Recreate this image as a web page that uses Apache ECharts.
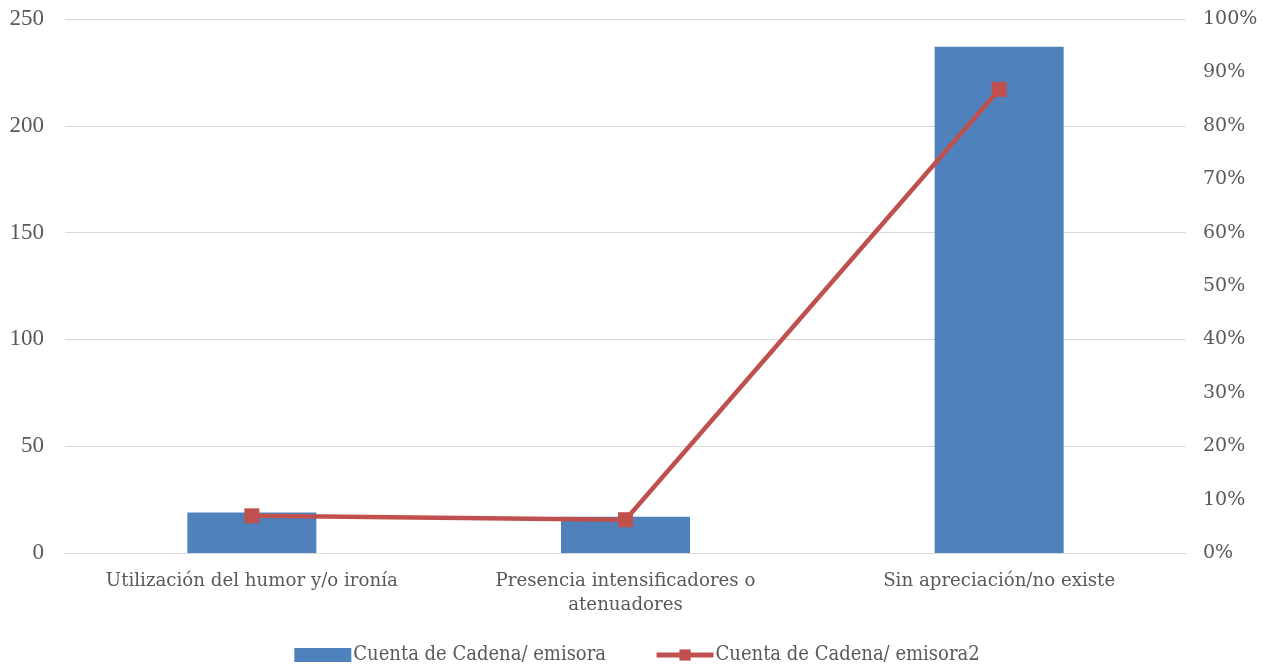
<!DOCTYPE html>
<html>
<head>
<meta charset="utf-8">
<script src="https://cdn.jsdelivr.net/npm/echarts@6/dist/echarts.min.js"></script>
<style>
html,body{margin:0;padding:0;background:#fff;}
#chart{width:1274px;height:666px;}
</style>
</head>
<body>
<div id="chart"></div>
<script>
// Categories and counts per category
const categories = ['Utilización del humor y/o ironía', 'Presencia intensificadores o\natenuadores', 'Sin apreciación/no existe'];
const counts = [19, 17, 237];
// Share of the total for each category (percent)
const shares = [6.96, 6.23, 86.81];
const seriesNames = ['Cuenta de Cadena/ emisora', 'Cuenta de Cadena/ emisora2'];

const chart = echarts.init(document.getElementById('chart'));
const textColor = '#595959';
const serif = '"Liberation Serif", "DejaVu Serif", serif';
const wideSerif = '"DejaVu Serif", "Liberation Serif", serif';

chart.setOption({
  animation: false,
  grid: { left: 65, right: 88, top: 19, bottom: 113 },
  legend: {
    top: 640,
    left: 'center',
    itemWidth: 57,
    itemHeight: 14,
    itemGap: 48,
    textStyle: { fontFamily: '"DejaVu Serif Condensed", "Liberation Serif", serif', fontSize: 20, color: textColor, padding: [0, 0, 0, -3] },
    data: [
      { name: seriesNames[0], icon: 'rect' },
      { name: seriesNames[1], lineStyle: { width: 5 }, itemStyle: { color: '#C0504D' } }
    ]
  },
  xAxis: {
    type: 'category',
    data: categories,
    axisLine: { show: true, lineStyle: { color: '#d9d9d9', width: 1 } },
    axisTick: { show: false },
    axisLabel: { color: textColor, fontFamily: wideSerif, fontSize: 18.2, margin: 16, lineHeight: 24, interval: 0 }
  },
  yAxis: [
    {
      type: 'value', min: 0, max: 250, interval: 50,
      axisLine: { show: false }, axisTick: { show: false },
      splitLine: { lineStyle: { color: '#d9d9d9', width: 1 } },
      axisLabel: { color: textColor, fontFamily: serif, fontSize: 23, margin: 21 }
    },
    {
      type: 'value', min: 0, max: 100, interval: 10,
      axisLine: { show: false }, axisTick: { show: false },
      splitLine: { show: false },
      axisLabel: { color: textColor, fontFamily: wideSerif, fontSize: 19, margin: 17, formatter: '{value}%' }
    }
  ],
  series: [
    {
      name: seriesNames[0], type: 'bar', data: counts, yAxisIndex: 0,
      barWidth: 129,
      itemStyle: { color: '#4F81BD' }
    },
    {
      name: seriesNames[1], type: 'line', data: shares, yAxisIndex: 1,
      symbol: 'rect', symbolSize: 15,
      lineStyle: { color: '#C0504D', width: 4.5 },
      itemStyle: { color: '#C0504D' }
    }
  ]
});
</script>
</body>
</html>
